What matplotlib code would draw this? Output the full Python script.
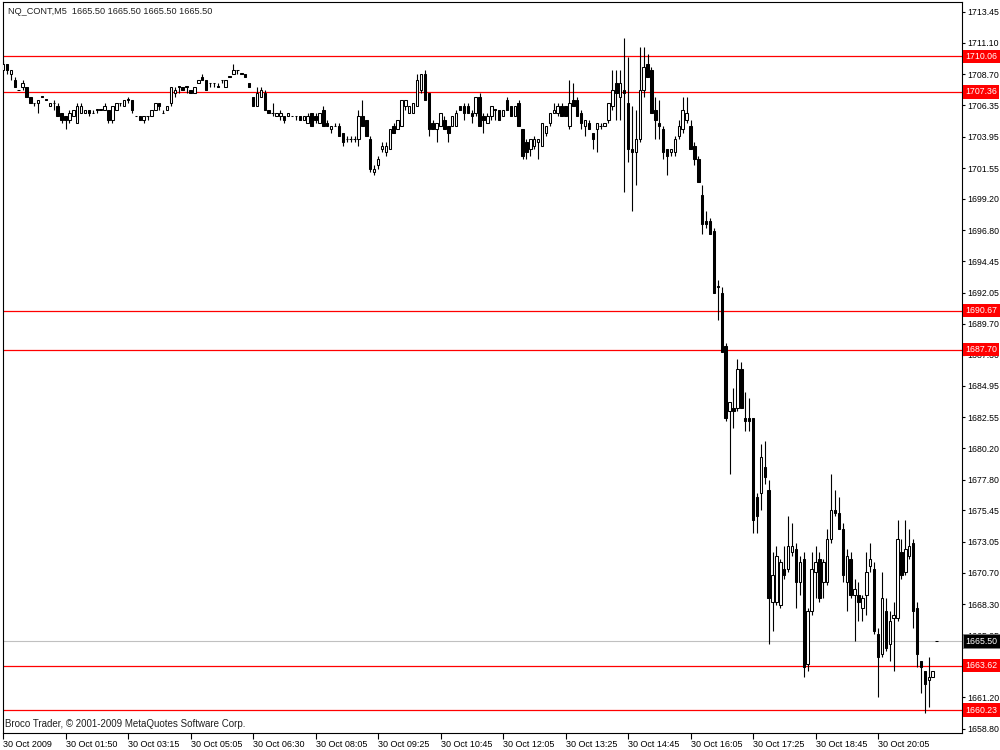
import matplotlib
matplotlib.use('Agg')
import matplotlib.pyplot as plt
import matplotlib.transforms as mtransforms
import numpy as np

## DATA (NQ_CONT, M5) ##
opens = [
    1709.0, 1709.5, 1708.75, 1708.25, 1707.5, 1707.75, 1707.75, 1707.0, 1706.5, 1706.5,
    1707.0, 1706.75, 1706.25, 1706.5, 1706.25, 1705.75, 1705.5, 1705.25, 1705.5, 1705.0,
    1705.75, 1705.75, 1706.0, 1705.75, 1706.0, 1706.0, 1706.0, 1706.0, 1705.25, 1706.0,
    1706.5, 1706.25, 1706.75, 1706.75, 1705.5, 1705.5, 1705.25, 1705.5, 1705.5, 1706.0,
    1706.5, 1705.75, 1706.0, 1706.5, 1707.25, 1707.75, 1707.75, 1707.75, 1707.5, 1707.25,
    1708.0, 1708.5, 1708.25, 1708.0, 1708.0, 1707.75, 1708.25, 1707.75, 1708.5, 1708.75,
    1709.0, 1708.75, 1708.75, 1708.0, 1707.0, 1706.25, 1707.0, 1707.25, 1706.0, 1705.75,
    1705.5, 1705.5, 1705.5, 1705.5, 1705.5, 1705.5, 1705.5, 1705.25, 1705.0, 1705.75,
    1705.5, 1705.0, 1706.0, 1705.0, 1704.5, 1704.75, 1704.75, 1704.25, 1703.75, 1703.75,
    1703.75, 1703.75, 1705.5, 1705.25, 1703.75, 1701.25, 1701.75, 1703.0, 1702.75, 1703.0,
    1704.75, 1704.5, 1704.75, 1706.25, 1705.75, 1705.75, 1706.25, 1707.5, 1708.75, 1707.25,
    1705.0, 1704.5, 1704.75, 1705.25, 1704.75, 1704.75, 1704.75, 1706.25, 1706.25, 1706.25,
    1705.75, 1705.75, 1707.0, 1705.5, 1705.0, 1705.5, 1706.0, 1706.0, 1705.5, 1706.75,
    1706.25, 1705.5, 1706.5, 1704.5, 1703.5, 1703.0, 1703.25, 1703.5, 1703.25, 1704.25,
    1705.0, 1705.75, 1705.75, 1706.25, 1706.25, 1704.75, 1706.75, 1706.75, 1705.75, 1704.75,
    1705.0, 1704.25, 1704.5, 1704.75, 1704.75, 1705.25, 1706.25, 1708.0, 1707.0, 1707.5,
    1706.5, 1703.0, 1702.75, 1703.75, 1707.5, 1709.5, 1709.0, 1706.0, 1705.0, 1704.5,
    1703.0, 1702.75, 1702.75, 1704.0, 1704.5, 1705.25, 1704.75, 1703.25, 1702.25, 1699.5,
    1697.5, 1697.5, 1696.75, 1692.5, 1692.0, 1688.0, 1683.0, 1683.25, 1683.25, 1686.25,
    1682.5, 1682.5, 1682.5, 1676.5, 1676.75, 1678.75, 1677.0, 1668.5, 1668.5, 1668.25,
    1671.0, 1671.0, 1672.25, 1672.5, 1670.0, 1671.75, 1663.75, 1667.75, 1670.75, 1671.75,
    1670.0, 1670.0, 1673.25, 1675.5, 1675.25, 1674.0, 1670.0, 1671.75, 1669.0, 1669.0,
    1668.0, 1669.0, 1671.25, 1671.0, 1666.0, 1664.5, 1667.75, 1665.25, 1667.25, 1667.25,
    1672.25, 1670.75, 1672.0, 1673.0, 1668.0, 1664.0, 1663.25, 1662.5, 1662.75, 1665.5,
]
highs = [
    1709.75, 1709.5, 1709.0, 1708.5, 1707.5, 1708.25, 1707.75, 1707.0, 1706.5, 1706.75,
    1707.0, 1706.75, 1706.5, 1706.75, 1706.5, 1705.75, 1705.5, 1706.0, 1706.0, 1706.5,
    1706.5, 1706.0, 1706.0, 1706.0, 1706.0, 1706.0, 1706.5, 1706.0, 1706.25, 1706.5,
    1706.5, 1706.75, 1707.0, 1706.75, 1705.5, 1705.5, 1705.5, 1705.5, 1706.0, 1706.5,
    1706.5, 1706.0, 1706.25, 1707.75, 1707.75, 1707.75, 1707.75, 1707.75, 1707.5, 1707.75,
    1708.25, 1708.75, 1708.25, 1708.0, 1708.0, 1708.0, 1708.25, 1708.25, 1708.5, 1709.5,
    1709.0, 1708.75, 1708.75, 1708.0, 1707.0, 1707.75, 1707.75, 1707.5, 1706.0, 1706.5,
    1705.75, 1706.0, 1705.5, 1705.75, 1705.5, 1705.5, 1705.5, 1705.5, 1705.75, 1705.75,
    1705.75, 1705.75, 1706.25, 1705.25, 1704.75, 1705.0, 1705.0, 1704.25, 1704.0, 1704.0,
    1704.0, 1706.0, 1706.75, 1705.25, 1704.0, 1701.75, 1702.5, 1703.5, 1703.5, 1704.5,
    1705.0, 1705.25, 1706.75, 1706.75, 1706.25, 1706.5, 1708.75, 1708.75, 1709.0, 1707.25,
    1705.25, 1705.0, 1705.75, 1705.5, 1704.75, 1705.5, 1706.0, 1706.25, 1706.5, 1706.5,
    1706.0, 1707.0, 1707.25, 1705.75, 1705.75, 1706.25, 1706.0, 1706.0, 1706.0, 1707.0,
    1706.25, 1706.25, 1706.75, 1704.5, 1703.75, 1703.75, 1704.0, 1703.75, 1705.0, 1704.75,
    1705.75, 1706.5, 1706.5, 1706.5, 1706.25, 1708.25, 1708.0, 1707.0, 1706.0, 1705.25,
    1705.25, 1704.25, 1705.0, 1705.0, 1705.0, 1706.5, 1709.0, 1709.0, 1709.0, 1711.5,
    1710.0, 1706.25, 1706.0, 1710.75, 1710.75, 1710.25, 1709.25, 1707.0, 1706.75, 1704.75,
    1703.0, 1703.0, 1704.0, 1705.25, 1707.0, 1707.0, 1705.25, 1703.5, 1702.5, 1700.25,
    1698.25, 1697.75, 1697.0, 1693.0, 1692.5, 1688.25, 1683.75, 1684.75, 1687.0, 1686.75,
    1684.5, 1684.0, 1682.5, 1676.75, 1680.5, 1680.75, 1677.75, 1672.25, 1672.75, 1671.75,
    1672.75, 1675.0, 1674.5, 1673.0, 1672.0, 1672.25, 1668.0, 1672.25, 1672.75, 1672.25,
    1671.75, 1674.0, 1678.25, 1677.0, 1676.5, 1674.5, 1672.5, 1672.25, 1670.25, 1670.0,
    1669.0, 1672.25, 1673.0, 1671.5, 1666.5, 1670.75, 1668.75, 1667.75, 1668.5, 1674.75,
    1673.25, 1674.75, 1674.0, 1673.25, 1668.5, 1664.0, 1663.25, 1664.25, 1663.25, 1665.5,
]
lows = [
    1709.0, 1708.75, 1708.25, 1707.75, 1707.5, 1707.5, 1707.0, 1706.5, 1706.25, 1705.75,
    1707.0, 1706.75, 1706.25, 1706.0, 1705.5, 1705.0, 1704.5, 1705.0, 1705.5, 1705.0,
    1705.75, 1705.75, 1705.5, 1705.75, 1705.75, 1706.0, 1706.0, 1705.0, 1705.0, 1706.0,
    1706.25, 1706.25, 1706.5, 1705.75, 1705.5, 1705.25, 1705.0, 1705.25, 1705.5, 1706.0,
    1706.0, 1705.75, 1706.0, 1706.25, 1707.0, 1707.25, 1707.5, 1707.25, 1707.25, 1707.25,
    1708.0, 1708.25, 1707.5, 1707.75, 1707.75, 1707.75, 1708.0, 1707.75, 1708.5, 1708.75,
    1708.75, 1708.75, 1708.5, 1707.75, 1706.25, 1706.25, 1707.0, 1706.0, 1705.75, 1705.5,
    1705.5, 1705.25, 1705.0, 1705.5, 1705.5, 1705.25, 1705.25, 1705.25, 1705.0, 1704.75,
    1705.0, 1705.0, 1704.75, 1704.75, 1704.25, 1704.75, 1704.0, 1703.25, 1703.5, 1703.5,
    1703.5, 1703.25, 1704.75, 1704.0, 1701.25, 1701.0, 1701.5, 1702.75, 1702.5, 1703.0,
    1704.25, 1704.5, 1704.75, 1706.0, 1705.75, 1705.75, 1706.25, 1707.25, 1706.75, 1704.0,
    1704.5, 1703.5, 1704.75, 1704.5, 1703.5, 1704.75, 1704.75, 1706.0, 1705.25, 1705.75,
    1705.0, 1705.5, 1704.75, 1704.25, 1705.0, 1705.25, 1705.25, 1705.25, 1705.5, 1706.0,
    1705.5, 1705.5, 1704.75, 1702.25, 1702.25, 1702.5, 1703.0, 1702.25, 1703.25, 1704.0,
    1704.75, 1705.75, 1705.5, 1705.5, 1705.5, 1704.5, 1706.25, 1705.5, 1704.5, 1704.0,
    1704.5, 1703.0, 1702.75, 1704.5, 1704.75, 1705.0, 1706.0, 1705.25, 1705.25, 1699.75,
    1702.0, 1698.25, 1700.25, 1703.5, 1707.0, 1708.5, 1705.75, 1703.75, 1703.75, 1702.25,
    1701.0, 1702.5, 1702.5, 1703.75, 1704.25, 1705.0, 1703.0, 1701.75, 1700.5, 1696.5,
    1697.0, 1696.5, 1692.0, 1690.0, 1687.5, 1682.25, 1678.25, 1681.75, 1683.0, 1683.25,
    1681.5, 1681.5, 1673.75, 1673.75, 1675.5, 1677.5, 1665.25, 1666.25, 1668.25, 1668.0,
    1670.25, 1670.75, 1672.0, 1668.0, 1669.0, 1662.75, 1663.25, 1667.5, 1668.75, 1668.5,
    1668.75, 1669.75, 1673.0, 1675.0, 1674.0, 1670.0, 1667.75, 1668.75, 1665.5, 1667.0,
    1667.0, 1667.5, 1670.75, 1666.0, 1661.25, 1664.25, 1664.75, 1664.0, 1663.25, 1667.0,
    1670.25, 1670.5, 1671.75, 1666.5, 1663.5, 1661.5, 1660.0, 1660.5, 1662.75, 1665.5,
]
closes = [
    1709.5, 1709.0, 1709.0, 1707.75, 1707.5, 1708.0, 1707.0, 1706.5, 1706.5, 1706.75,
    1707.0, 1706.75, 1706.5, 1706.5, 1705.5, 1705.25, 1705.25, 1705.75, 1706.0, 1706.25,
    1706.25, 1706.0, 1705.75, 1705.75, 1706.0, 1706.0, 1706.25, 1705.25, 1706.25, 1706.5,
    1706.5, 1706.75, 1706.75, 1706.0, 1705.5, 1705.25, 1705.5, 1705.5, 1706.0, 1706.5,
    1706.25, 1705.75, 1706.25, 1707.75, 1707.5, 1707.75, 1707.5, 1707.75, 1707.25, 1707.75,
    1708.25, 1708.25, 1707.5, 1708.0, 1708.0, 1707.75, 1708.25, 1708.25, 1708.5, 1709.0,
    1709.0, 1708.75, 1708.5, 1707.75, 1706.25, 1707.25, 1707.5, 1706.0, 1705.75, 1705.75,
    1705.75, 1705.75, 1705.25, 1705.75, 1705.5, 1705.5, 1705.25, 1705.5, 1705.5, 1704.75,
    1705.25, 1705.75, 1704.75, 1704.75, 1704.75, 1704.75, 1704.0, 1703.5, 1703.75, 1703.75,
    1703.75, 1705.5, 1704.75, 1704.0, 1701.5, 1701.5, 1702.25, 1703.25, 1703.25, 1704.5,
    1704.25, 1705.25, 1706.75, 1706.75, 1706.25, 1706.5, 1708.25, 1708.75, 1706.75, 1704.5,
    1704.5, 1705.0, 1705.75, 1704.5, 1704.25, 1705.5, 1705.75, 1706.0, 1705.75, 1705.75,
    1705.5, 1707.0, 1704.75, 1705.25, 1705.5, 1706.25, 1706.0, 1705.25, 1706.0, 1706.0,
    1705.5, 1706.25, 1704.75, 1702.5, 1702.75, 1703.75, 1703.75, 1703.75, 1705.0, 1704.75,
    1705.75, 1706.0, 1706.25, 1705.5, 1705.5, 1706.5, 1706.25, 1705.5, 1705.0, 1705.25,
    1704.5, 1703.75, 1705.0, 1704.75, 1705.0, 1706.5, 1707.5, 1707.25, 1708.0, 1707.25,
    1703.0, 1702.75, 1703.75, 1707.5, 1709.25, 1708.5, 1705.75, 1705.25, 1704.75, 1702.75,
    1702.5, 1703.0, 1703.75, 1704.75, 1706.0, 1705.75, 1703.0, 1702.25, 1700.5, 1697.25,
    1697.25, 1696.5, 1692.0, 1692.5, 1687.5, 1682.5, 1683.75, 1683.0, 1686.25, 1683.25,
    1682.25, 1682.25, 1674.75, 1675.0, 1679.5, 1678.0, 1668.75, 1670.5, 1672.0, 1671.5,
    1670.5, 1672.75, 1672.75, 1670.0, 1671.5, 1663.5, 1667.75, 1671.0, 1671.5, 1668.75,
    1671.5, 1673.25, 1675.5, 1675.25, 1674.0, 1670.5, 1672.0, 1669.0, 1669.5, 1668.5,
    1668.75, 1670.75, 1671.75, 1666.25, 1664.25, 1668.75, 1665.0, 1667.0, 1667.5, 1673.25,
    1670.5, 1672.5, 1672.75, 1667.75, 1664.5, 1663.5, 1662.25, 1662.75, 1663.25, 1665.5,
]

time_labels = ['30 Oct 2009', '30 Oct 01:50', '30 Oct 03:15', '30 Oct 05:05', '30 Oct 06:30',
               '30 Oct 08:05', '30 Oct 09:25', '30 Oct 10:45', '30 Oct 12:05', '30 Oct 13:25',
               '30 Oct 14:45', '30 Oct 16:05', '30 Oct 17:25', '30 Oct 18:45', '30 Oct 20:05']
price_ticks = [1713.45, 1711.10, 1708.70, 1706.35, 1703.95, 1701.55, 1699.20, 1696.80,
               1694.45, 1692.05, 1689.70, 1687.30, 1684.95, 1682.55, 1680.20, 1677.80,
               1675.45, 1673.05, 1670.70, 1668.30, 1665.95, 1663.55, 1661.20, 1658.80]
levels = [1710.06, 1707.36, 1690.67, 1687.70, 1663.62, 1660.23]
last_price = 1665.50

plt.rcParams['font.family'] = ['Liberation Sans', 'DejaVu Sans']

fig = plt.figure(figsize=(10, 7.5), dpi=100)
ax = fig.add_axes([0.0025, 0.0227, 0.9595, 0.9747])

## CANDLES ##
o = np.array(opens)
h = np.array(highs)
l = np.array(lows)
c = np.array(closes)
x = np.arange(len(o))

ax.vlines(x, l, h, color='black', linewidth=0.8, zorder=3)
body_low = np.minimum(o, c)
body_h = np.maximum(np.abs(c - o), 0.03)
body_col = np.where(c > o, 'white', 'black')
ax.bar(x, body_h, bottom=body_low, width=0.62, color=body_col,
       edgecolor='black', linewidth=0.75, zorder=4)

## LINHAS ##
ax.axhline(last_price, color='#c0c0c0', linewidth=0.8, zorder=1)
for lv in levels:
    ax.axhline(lv, color='#ff0000', linewidth=0.9, zorder=2)

trans = mtransforms.blended_transform_factory(ax.transAxes, ax.transData)
for lv in levels:
    ax.text(1.0035, lv, '%.2f' % lv, transform=trans, ha='left', va='center',
            fontsize=6.3, color='white', zorder=10, clip_on=False,
            bbox=dict(boxstyle='square,pad=0.25', fc='#ff0000', ec='none'))
ax.text(1.0035, last_price, '%.2f' % last_price, transform=trans, ha='left', va='center',
        fontsize=6.3, color='white', zorder=10, clip_on=False,
        bbox=dict(boxstyle='square,pad=0.25', fc='black', ec='#808080', lw=0.6))

## EIXOS ##
ax.set_xlim(-0.13, 245.5)
ax.set_ylim(1658.49, 1714.21)

ax.yaxis.tick_right()
ax.set_yticks(price_ticks)
ax.set_yticklabels(['%.2f' % v for v in price_ticks])
ax.tick_params(axis='y', direction='out', length=2.5, width=0.8, pad=1, labelsize=6.3)

ax.set_xticks(np.arange(0, 16 * len(time_labels), 16))
ax.set_xticklabels(time_labels)
for lab in ax.get_xticklabels():
    lab.set_ha('left')
ax.tick_params(axis='x', direction='out', length=4, width=0.8, pad=1, labelsize=6.5)

for sp in ax.spines.values():
    sp.set_linewidth(0.8)
    sp.set_color('black')

fig.text(0.008, 1 - 12 / 750, 'NQ_CONT,M5  1665.50 1665.50 1665.50 1665.50',
         fontsize=6.6, va='center', ha='left', color='#202020')
fig.text(0.005, 1 - 724 / 750, 'Broco Trader, \u00a9 2001-2009 MetaQuotes Software Corp.',
         fontsize=7, va='center', ha='left', color='#202020')

fig.savefig('out.png', dpi=100)
